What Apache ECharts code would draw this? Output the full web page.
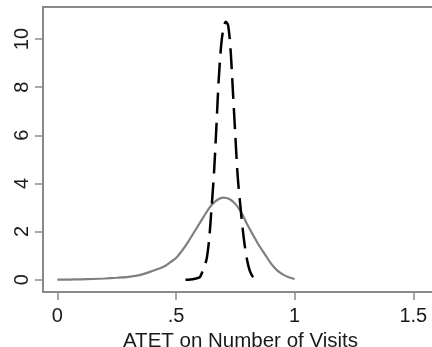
<!DOCTYPE html>
<html>
<head>
<meta charset="utf-8">
<script src="https://cdn.jsdelivr.net/npm/echarts@6/dist/echarts.min.js"></script>
<style>
  html, body { margin: 0; padding: 0; background: #fff; }
  #chart { width: 432px; height: 347px; }
</style>
</head>
<body>
<div id="chart"></div>
<script>
// Density of the ATET estimate (solid gray curve)
const solidX = [0, 0.05, 0.1, 0.15, 0.2, 0.25, 0.3, 0.35, 0.4, 0.45, 0.475, 0.5, 0.525, 0.55, 0.575, 0.6, 0.625, 0.65, 0.675, 0.7, 0.725, 0.75, 0.775, 0.8, 0.825, 0.85, 0.875, 0.9, 0.925, 0.95, 0.975, 1.0];
const solidY = [0, 0.005, 0.015, 0.03, 0.05, 0.08, 0.12, 0.2, 0.36, 0.55, 0.72, 0.9, 1.2, 1.55, 1.95, 2.35, 2.75, 3.1, 3.32, 3.41, 3.35, 3.15, 2.8, 2.3, 1.85, 1.42, 1.05, 0.68, 0.4, 0.22, 0.1, 0.03];

// Density of the ATET estimate (dashed black curve)
const dashX = [0.54, 0.56, 0.58, 0.6, 0.61, 0.62, 0.63, 0.64, 0.65, 0.66, 0.67, 0.68, 0.69, 0.7, 0.71, 0.72, 0.73, 0.74, 0.75, 0.76, 0.77, 0.78, 0.79, 0.8, 0.81, 0.82, 0.83];
const dashY = [0, 0.01, 0.04, 0.1, 0.3, 0.55, 0.9, 1.7, 3.0, 4.4, 6.3, 8.3, 9.7, 10.45, 10.72, 10.55, 9.55, 7.8, 6.0, 4.3, 3.2, 2.2, 1.4, 0.8, 0.4, 0.18, 0.05];

// Axis ticks
const xTicks = [0, 0.5, 1, 1.5];
const xTickLabels = ['0', '.5', '1', '1.5'];
const yTicks = [0, 2, 4, 6, 8, 10];
const xTitle = 'ATET on Number of Visits';

const pairs = (xs, ys) => xs.map((x, i) => [x, ys[i]]);
const axisGray = '#8a8a8a';
const textColor = '#1a1a1a';
const font = '"Liberation Sans", Arial, sans-serif';

const chart = echarts.init(document.getElementById('chart'), null, { renderer: 'canvas' });
chart.setOption({
  animation: false,
  backgroundColor: '#fff',
  grid: {
    left: 43, top: 7, width: 395, bottom: 55,
    outerBoundsMode: 'none', containLabel: false,
    show: true, borderColor: axisGray, borderWidth: 2, backgroundColor: 'transparent'
  },
  xAxis: {
    type: 'value',
    min: -0.0603, max: 1.604,
    splitLine: { show: false },
    axisLine: { show: true, onZero: false, lineStyle: { color: axisGray, width: 2 } },
    axisTick: { show: true, length: 8, customValues: xTicks, lineStyle: { color: axisGray, width: 1.5 } },
    axisLabel: {
      customValues: xTicks,
      formatter: v => xTickLabels[xTicks.indexOf(v)] ?? '',
      color: textColor, fontSize: 20, fontFamily: font, margin: 14
    },
    name: xTitle,
    nameLocation: 'middle',
    nameGap: 34,
    nameTextStyle: { color: textColor, fontSize: 20.5, fontFamily: font }
  },
  yAxis: {
    type: 'value',
    min: -0.511, max: 11.33,
    splitLine: { show: false },
    axisLine: { show: true, onZero: false, lineStyle: { color: axisGray, width: 2 } },
    axisTick: { show: true, length: 8, customValues: yTicks, lineStyle: { color: axisGray, width: 1.5 } },
    axisLabel: {
      customValues: yTicks,
      rotate: 90,
      color: textColor, fontSize: 20, fontFamily: font, margin: 11
    }
  },
  series: [
    {
      type: 'line',
      data: pairs(solidX, solidY),
      showSymbol: false,
      smooth: 0.3,
      lineStyle: { color: '#7f7f7f', width: 2.2 }
    },
    {
      type: 'line',
      data: pairs(dashX, dashY),
      showSymbol: false,
      smooth: 0.3,
      lineStyle: { color: '#000', width: 2.5, type: [21, 9] }
    }
  ]
});
</script>
</body>
</html>
